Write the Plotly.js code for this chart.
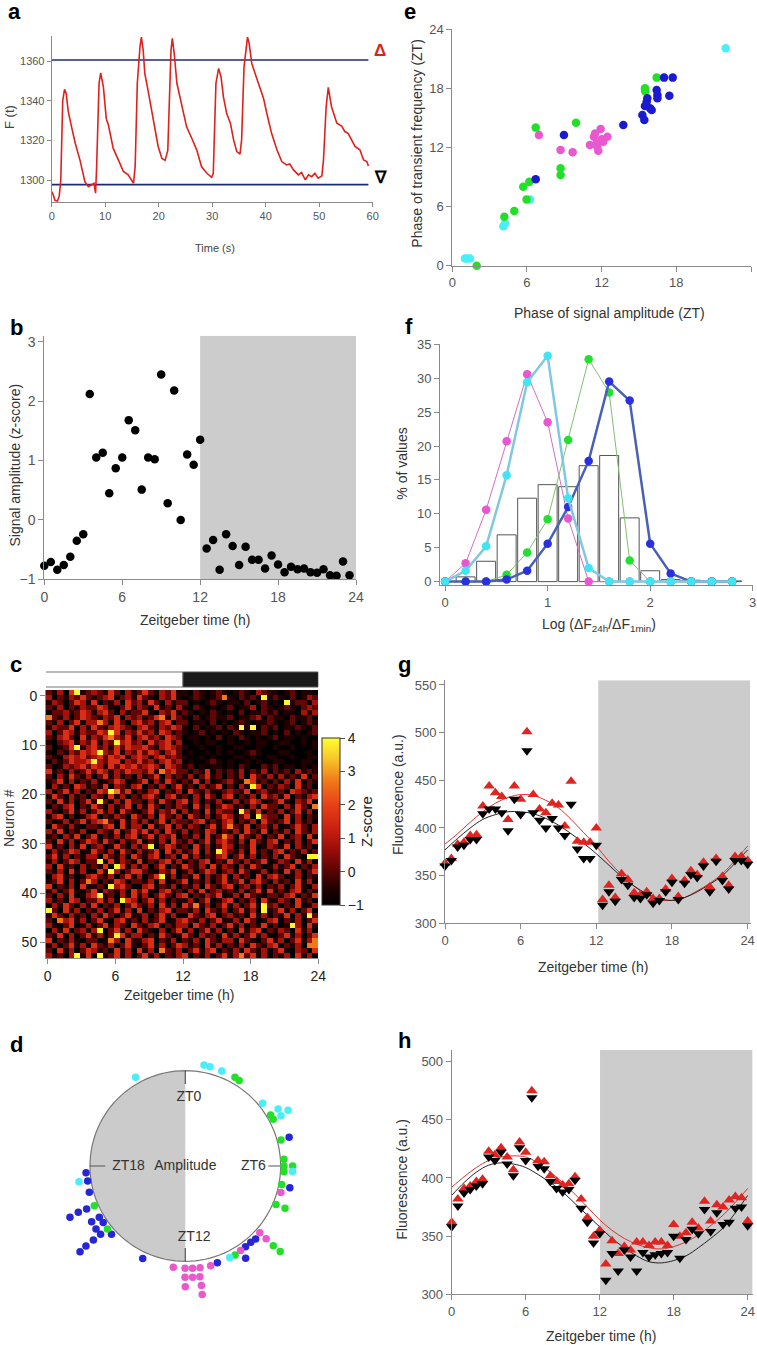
<!DOCTYPE html>
<html><head><meta charset="utf-8">
<script src="https://cdn.plot.ly/plotly-3.0.1.min.js"></script>
<style>body{margin:0;background:#fff}#chart{width:757px;height:1345px}</style>
</head><body><div id="chart"></div><script>
// ---------- Panel a: single-neuron trace ----------
const timeA = [0,0.3,0.6,1.06,1.4,1.7,2.06,2.4,2.7,3.1,3.7,4.4,5.3,6.2,6.85,7.5,7.9,8.2,8.4,8.85,9.16,9.66,10.2,10.6,11.5,12.5,13.4,14.3,15.3,15.6,16.0,16.5,16.76,17.1,17.4,18.1,19.0,19.9,20.6,21.2,21.7,22.0,22.3,22.55,22.9,23.4,24.3,25.2,26.2,27.1,28.0,29.0,29.9,30.2,30.7,31.2,31.65,32.1,32.7,33.4,34.0,34.6,35.2,35.5,35.95,36.6,36.9,37.4,38.0,38.9,39.6,40.2,41.1,42.1,43.0,43.9,44.5,45.2,46.1,46.7,47.4,48.0,48.6,49.2,49.8,50.5,50.8,51.3,51.7,52.3,53.3,54.2,54.8,55.4,56.1,56.7,57.6,58.3,58.9,59.2];
const fluorA = [1294.3,1292.6,1290,1289.3,1292,1300,1340,1345.8,1343.8,1334.5,1327,1318.6,1310,1299.3,1296.8,1297.7,1298.5,1293.5,1306.9,1348.8,1354,1347,1331,1327.8,1316,1310,1304.4,1302.7,1298.5,1306.9,1348.8,1367.2,1372,1365.5,1353.8,1343.8,1330.3,1317,1311,1310,1315,1340.4,1365.5,1371.4,1363.9,1348.8,1337,1327,1321,1315.3,1306.9,1303.5,1301.5,1303.5,1348.8,1356.3,1352,1342,1333.7,1328.7,1320.3,1314.4,1313.2,1320.3,1357.2,1372,1369,1358.8,1353.8,1347,1341.2,1333.7,1323.6,1315.3,1309.4,1307.7,1308.2,1305.2,1302.7,1303.9,1300.2,1302.7,1301.8,1303.5,1301,1302.2,1310.2,1337,1346.8,1337,1328.7,1327.3,1324.5,1323.6,1320.3,1317,1315.3,1310.2,1309.4,1307.2];
const thrSpan = [0, 59.2];
const thrHigh = 1360.5, thrLow = 1297.8;

// ---------- Panel b: signal amplitude ----------
const bTime = [0,0.5,1,1.5,2,2.5,3,3.5,4,4.5,5,5.5,6,6.5,7,7.5,8,8.5,9,9.5,10,10.5,11,11.5,12,12.5,13,13.5,14,14.5,15,15.5,16,16.5,17,17.5,18,18.5,19,19.5,20,20.5,21,21.5,22,22.5,23,23.5];
const bAmp = [-0.77,-0.71,-0.84,-0.76,-0.62,-0.35,-0.24,2.12,1.05,1.13,0.45,0.87,1.05,1.68,1.51,0.51,1.05,1.02,2.45,0.28,2.18,0.0,1.1,0.93,1.35,-0.48,-0.34,-0.84,-0.24,-0.44,-0.76,-0.45,-0.67,-0.67,-0.82,-0.6,-0.75,-0.88,-0.79,-0.83,-0.82,-0.88,-0.89,-0.83,-0.93,-0.94,-0.7,-0.93];

// ---------- Panel c: heatmap (estimated z-score levels, 54 neurons x 48 half-hour bins) ----------
const zLevels = [-1, -0.5, 0.1, 0.8, 1.6, 2.7, 3.9];
const hmRows = [
"21304612 32142031 24213241 10210121 01210321 10120110",
"30213242 12340231 42103241 01210125 10212061 21020132",
"13202431 40213042 31420312 20101210 11020120 10612203",
"21302132 24310241 32041203 10210101 20113021 01210232",
"02231243 13420312 24103241 21010210 10201121 20110313",
"52130243 21324032 31245142 10201211 20112302 11021120",
"21302413 35314203 42313402 20110201 01210112 10120121",
"13224031 42134320 34213243 10201120 21616021 20112102",
"30243132 24364132 42314312 10120101 02101120 10201012",
"21342041 32453241 34231432 01101020 10210101 20110100",
"10234132 41326342 31423413 00101100 10010110 01100101",
"20124613 42314243 34213432 10010010 01100100 10010001",
"10213243 46324132 42431342 01001010 10012100 01100010",
"21034342 34243413 43134232 10010100 01101001 10010011",
"02124334 63244132 42313423 01001210 10010100 11000110",
"20132342 43142434 23431432 12010110 10210021 20110101",
"41203124 24313243 32415342 20214021 21302130 21203121",
"20314213 02413120 31240312 13024120 21304213 03121402",
"12403021 30124301 24031420 21403012 31054120 20314021",
"03120431 21403213 40213024 12031240 20316402 13204120",
"30241302 14365240 21340213 04213102 32140231 12043212",
"14203120 32041302 13420341 20314203 40213042 31402134",
"20413024 16203142 20314203 41302130 13024301 24103240",
"02134021 42031240 31420213 20413024 31203142 20314205",
"31024130 24130421 02413240 31204132 20631402 13024130",
"13402013 40213204 21304213 04213024 31240632 20413021",
"20130241 34520413 13024032 21340213 40213042 12403120",
"04213102 21340413 30412403 13202413 52140231 30124203",
"31402130 03214024 24130421 30214302 13042140 21304213",
"12031402 40213134 02413240 21304125 30421302 14023041",
"20413024 31420312 40213042 13024134 21304213 40213024",
"41203140 23014203 13602431 20413024 30214013 21403120",
"03124301 42130420 31240413 12403164 21304120 34021302",
"24130213 30421304 21340230 41302134 02413021 30421066",
"13024302 26041320 40213413 02134021 42031240 13204130",
"30412031 21406413 13024021 42130413 20314201 31240213",
"21304130 04163024 42103240 13024302 31420130 20413024",
"03412013 42130241 30246130 21403124 03120413 42013021",
"12403025 30214302 21304012 40213024 12403420 31204130",
"40213041 12063420 03412130 21304213 40231302 13024103",
"13024102 40321304 24103412 03140231 21302414 02134021",
"20314013 46120314 13024203 40213240 13042102 21340214",
"31204302 24130643 02413021 13024013 40213041 13204120",
"03142031 40213024 21304130 42513024 13024162 30214013",
"62041302 13024130 40213402 21304213 02413061 24130240",
"14203120 31420241 13024130 04213402 31204130 21403162",
"20534130 24103412 03124013 42130241 13042013 40213024",
"31024013 02413204 21340213 30421302 41302140 20163041",
"03140231 36024130 42103024 13024130 20413402 13204130",
"21403024 13026413 30214201 42031204 13024130 02413024",
"40213102 20153041 13402130 21304213 30421024 13024135",
"13024130 42130241 02413024 31204130 21304213 40213055",
"20413024 31204130 41305213 02413402 13042130 24103204",
"31203614 06124130 24130213 40213024 13524130 21304130"
];

// ---------- Panel d: phase (ZT) and radial position of each neuron ----------
const dCyanZT = [22.05,0.70,0.93,1.40,3.40,3.90,4.15,4.10,6.20,10.27,17.44];
const dCyanR  = [1.066,1.077,1.074,1.067,1.044,1.142,1.134,1.227,1.127,1.066,1.127];
const dGreenZT = [1.95,2.15,3.94,4.13,4.99,5.74,6.00,6.22,6.00,6.72,7.53,7.53,8.81,8.80,10.05,16.43,15.40];
const dGreenR  = [1.066,1.059,1.043,1.045,1.040,1.037,1.035,1.037,1.126,1.029,1.033,1.136,1.245,1.339,1.069,1.041,1.052];
const dMagZT = [7.03,8.79,8.80,9.79,11.05,12.45,12.01,11.73,11.45,12.01,11.75,11.50,12.0,11.49,11.5];
const dMagR  = [1.04,1.05,1.141,1.06,1.079,1.07,1.073,1.076,1.078,1.168,1.170,1.171,1.266,1.266,1.36];
const dBlueZT = [4.97,6.78,9.07,9.29,9.55,9.79,10.78,13.65,15.39,15.41,15.41,15.41,15.15,15.65,15.95,15.95,15.70,16.40,16.44,16.43,16.98,17.42,17.74];
const dBlueR  = [1.13,1.12,1.063,1.054,1.056,1.157,1.07,1.067,1.424,1.338,1.238,1.141,1.054,1.147,1.143,1.05,1.045,1.324,1.223,1.129,1.044,1.036,1.044];
const dLabels = ['ZT0','ZT6','ZT12','ZT18','Amplitude'];

// ---------- Panel e: phase vs phase ----------
const eCyanX = [1.02,1.42,1.2,4.1,4.23,6.24,21.97];
const eCyanY = [0.74,0.74,0.74,4.0,4.3,6.7,22.04];
const eGreenX = [1.96,4.18,4.98,5.7,6.19,5.97,6.7,8.7,8.7,9.94,15.48,16.42,15.5];
const eGreenY = [0.0,4.97,5.54,8.0,8.5,6.72,14.0,9.87,9.2,14.5,17.98,19.07,17.7];
const eMagX = [6.96,8.7,9.67,11.06,11.38,11.65,11.73,11.92,12.13,12.46,11.47,12.0,11.6];
const eMagY = [13.25,11.73,11.5,12.24,13.08,12.07,11.66,13.86,12.58,13.08,13.4,12.81,12.4];
const eBlueX = [6.7,8.97,13.74,15.27,15.43,15.48,15.67,15.89,16.02,16.42,16.48,16.48,17.01,17.71,17.44,15.62];
const eBlueY = [8.76,13.25,14.27,15.28,14.77,16.19,16.97,15.96,15.79,17.82,17.31,16.97,19.07,19.07,17.24,16.63];

// ---------- Panel f: distributions ----------
const fX = [0,0.2,0.4,0.6,0.8,1.0,1.2,1.4,1.6,1.8,2.0,2.2,2.4,2.6,2.8];
const fMag = [0,2.7,10.6,20.7,30.6,23.5,9.3,0,0,0,0,0,0,0,0];
const fCyan = [0,1.6,5.2,15.7,29.4,33.3,12.3,2.0,0,0,0,0,0,0,0];
const fGreen = [0,0,0,1.0,4.3,9.2,20.9,32.8,27.9,3.1,0,0,0,0,0];
const fBlue = [0,0,0,0.3,1.6,5.6,11.0,17.8,29.5,26.7,5.6,1.2,0,0,0];
const fBarX = [0.2,0.4,0.6,0.8,1.0,1.2,1.4,1.6,1.8,2.0,2.2,2.4,2.6,2.8];
const fBarY = [0.7,3.0,6.9,12.3,14.3,14.0,17.1,18.6,9.4,1.6,0.3,0.2,0.1,0.1];

// ---------- Panels g, h: population fluorescence ----------
const ztHalf = [0,0.5,1,1.5,2,2.5,3,3.5,4,4.5,5,5.5,6,6.5,7,7.5,8,8.5,9,9.5,10,10.5,11,11.5,12,12.5,13,13.5,14,14.5,15,15.5,16,16.5,17,17.5,18,18.5,19,19.5,20,20.5,21,21.5,22,22.5,23,23.5,24];
const ztHour = [0,1,2,3,4,5,6,7,8,9,10,11,12,13,14,15,16,17,18,19,20,21,22,23,24];
const gRed = [363,368,383,385,392,393,423,444,437,433,409,444,430,501,435,420,416,426,424,402,449,386,385,385,400,325,340,327,352,346,332,330,333,326,326,336,347,328,345,355,351,364,338,368,349,340,370,370,366];
const gBlack = [360,366,380,382,388,388,415,420,420,416,397,430,414,481,416,408,400,410,400,392,425,378,368,368,382,319,333,323,346,340,327,326,330,321,324,333,343,325,342,351,348,360,333,365,345,336,366,366,362];
const gRedFit = [383,394,406,417,426,432,435,434,429,421,409,395,381,365,351,339,330,325,324,327,334,342,352,366,381];
const gBlackFit = [377,389,400,409,414,417,417,415,410,403,394,384,373,361,349,339,331,326,324,327,333,341,350,363,377];
const hRed = [362,382,391,393,397,399,423,420,426,418,407,431,422,475,415,414,402,397,394,395,401,382,366,350,355,326,346,335,341,338,345,345,342,345,345,342,360,350,353,362,357,380,363,377,375,381,384,383,363];
const hBlack = [358,376,387,390,393,395,418,415,422,412,402,426,415,469,410,408,397,391,388,390,398,374,362,344,352,312,335,320,338,332,320,336,332,334,335,336,350,331,347,356,352,373,354,370,360,362,374,375,359];
const hRedFit = [392,401,409,415,418,419,418,413,405,396,386,375,364,355,348,343,340,339,341,345,351,359,368,379,391];
const hBlackFit = [385,396,405,411,413,412,409,403,396,388,378,368,358,348,340,333,328,327,329,333,340,348,357,370,385];

// ======================================================================
const W = 757, H = 1345;
const fx = p => p / W, fy = p => 1 - p / H;
const FONT = 'Liberation Sans, Arial, sans-serif';
const NARROW = 'Liberation Sans Narrow, Liberation Sans, Arial, sans-serif';
const CYAN = '#48eef8', GREEN = '#22e028', MAG = '#ea58d0', BLUE = '#2626d8';

function ax(extra) {
  return Object.assign({
    showline: true, linecolor: '#8a8a8a', linewidth: 1, ticks: 'outside', ticklen: 5,
    tickcolor: '#8a8a8a', showgrid: false, zeroline: false, fixedrange: true,
    tickfont: {family: NARROW, size: 13, color: '#555'}
  }, extra);
}

const hmZ = hmRows.map(r => r.replace(/ /g, '').split('').map(c => zLevels[+c]));
const deg = a => a.map(v => v * 15);
const circT = []; for (let a = 0; a <= 360; a += 3) circT.push(a);
const circR = circT.map(() => 1);

const traces = [
  // a
  {type:'scatter', mode:'lines', x:thrSpan, y:[thrHigh,thrHigh], xaxis:'x', yaxis:'y', line:{color:'#1c2a7a', width:1.6}, hoverinfo:'skip'},
  {type:'scatter', mode:'lines', x:thrSpan, y:[thrLow,thrLow], xaxis:'x', yaxis:'y', line:{color:'#1c2a7a', width:1.6}, hoverinfo:'skip'},
  {type:'scatter', mode:'lines', x:timeA, y:fluorA, xaxis:'x', yaxis:'y', line:{color:'#e0201c', width:1.6}},
  // b
  {type:'scatter', mode:'markers', x:bTime, y:bAmp, xaxis:'x2', yaxis:'y2', marker:{color:'#000', size:8.5}, cliponaxis:false},
  // c
  {type:'heatmap', z:hmZ, x0:0.1016, dx:0.5031, y0:-0.656, dy:1.0074, xaxis:'x3', yaxis:'y3', zmin:-1, zmax:4,
   colorscale:[[0,'#000000'],[0.1,'#220000'],[0.2,'#580404'],[0.32,'#940c08'],[0.46,'#cc2010'],[0.6,'#e84018'],[0.74,'#f07818'],[0.88,'#f8c828'],[1,'#ffff30']],
   colorbar:{x:fx(322), xanchor:'left', y:fy(821.5), yanchor:'middle', len:167/H, lenmode:'fraction', thickness:18,
     outlinewidth:1, outlinecolor:'#333', tickvals:[-1,0,1,2,3,4], ticks:'outside', ticklen:5, tickcolor:'#555',
     tickfont:{family:FONT, size:14, color:'#222'}, xpad:0, ypad:0,
     title:{text:'Z-score', side:'right', font:{family:FONT, size:15, color:'#222'}}}},
  // d
  {type:'barpolar', subplot:'polar', r:[1], theta:[270], width:[180], marker:{color:'#cbcbcb', line:{width:0}}, hoverinfo:'skip'},
  {type:'scatterpolar', subplot:'polar', mode:'lines', r:circR, theta:circT, line:{color:'#777', width:1.2}, hoverinfo:'skip'},
  {type:'scatterpolar', subplot:'polar', mode:'lines', r:[1,0.86,null,1,0.87,null,1,0.86,null,1,0.84], theta:[0,0,null,90,90,null,180,180,null,270,270], line:{color:'#555', width:1.2}, connectgaps:false, hoverinfo:'skip'},
  {type:'scatterpolar', subplot:'polar', mode:'text', r:[0.72,0.715,0.76,0.595,0], theta:[3,90,173,270,0], text:dLabels, textfont:{family:FONT, size:14, color:'#333'}, hoverinfo:'skip'},
  {type:'scatterpolar', subplot:'polar', mode:'markers', r:dBlueR, theta:deg(dBlueZT), marker:{color:BLUE, size:7.5}},
  {type:'scatterpolar', subplot:'polar', mode:'markers', r:dMagR, theta:deg(dMagZT), marker:{color:MAG, size:7.5}},
  {type:'scatterpolar', subplot:'polar', mode:'markers', r:dGreenR, theta:deg(dGreenZT), marker:{color:GREEN, size:7.5}},
  {type:'scatterpolar', subplot:'polar', mode:'markers', r:dCyanR, theta:deg(dCyanZT), marker:{color:CYAN, size:7.5}},
  // e
  {type:'scatter', mode:'markers', x:eCyanX, y:eCyanY, xaxis:'x4', yaxis:'y4', marker:{color:CYAN, size:8.5}, cliponaxis:false},
  {type:'scatter', mode:'markers', x:eMagX, y:eMagY, xaxis:'x4', yaxis:'y4', marker:{color:MAG, size:8.5}, cliponaxis:false},
  {type:'scatter', mode:'markers', x:eGreenX, y:eGreenY, xaxis:'x4', yaxis:'y4', marker:{color:GREEN, size:8.5}, cliponaxis:false},
  {type:'scatter', mode:'markers', x:eBlueX, y:eBlueY, xaxis:'x4', yaxis:'y4', marker:{color:'#1a1ad0', size:8.5}, cliponaxis:false},
  // f
  {type:'bar', x:fBarX, y:fBarY, width:0.185, xaxis:'x5', yaxis:'y5', marker:{color:'#fff', line:{color:'#555', width:1}}},
  {type:'scatter', mode:'lines+markers', x:fX, y:fMag, xaxis:'x5', yaxis:'y5', line:{color:'#d070c4', width:1}, marker:{color:'#e856d0', size:8.5}, cliponaxis:false},
  {type:'scatter', mode:'lines+markers', x:fX, y:fGreen, xaxis:'x5', yaxis:'y5', line:{color:'#80c070', width:1}, marker:{color:'#22e030', size:8.5}, cliponaxis:false},
  {type:'scatter', mode:'lines+markers', x:fX, y:fBlue, xaxis:'x5', yaxis:'y5', line:{color:'#4a60b4', width:2.5}, marker:{color:'#2a30e0', size:8.5}, cliponaxis:false},
  {type:'scatter', mode:'lines+markers', x:fX, y:fCyan, xaxis:'x5', yaxis:'y5', line:{color:'#80c8e0', width:2.5}, marker:{color:'#40e4f4', size:8.5}, cliponaxis:false},
  // g
  {type:'scatter', mode:'lines', x:ztHour, y:gRedFit, xaxis:'x6', yaxis:'y6', line:{color:'#e03030', width:1, shape:'spline'}},
  {type:'scatter', mode:'lines', x:ztHour, y:gBlackFit, xaxis:'x6', yaxis:'y6', line:{color:'#222', width:1, shape:'spline'}},
  {type:'scatter', mode:'markers', x:ztHalf, y:gRed, xaxis:'x6', yaxis:'y6', marker:{color:'#e02420', size:10, symbol:'triangle-up'}, cliponaxis:false},
  {type:'scatter', mode:'markers', x:ztHalf, y:gBlack, xaxis:'x6', yaxis:'y6', marker:{color:'#000', size:10, symbol:'triangle-down'}, cliponaxis:false},
  // h
  {type:'scatter', mode:'lines', x:ztHour, y:hRedFit, xaxis:'x7', yaxis:'y7', line:{color:'#e03030', width:1, shape:'spline'}},
  {type:'scatter', mode:'lines', x:ztHour, y:hBlackFit, xaxis:'x7', yaxis:'y7', line:{color:'#222', width:1, shape:'spline'}},
  {type:'scatter', mode:'markers', x:ztHalf, y:hRed, xaxis:'x7', yaxis:'y7', marker:{color:'#e02420', size:10, symbol:'triangle-up'}, cliponaxis:false},
  {type:'scatter', mode:'markers', x:ztHalf, y:hBlack, xaxis:'x7', yaxis:'y7', marker:{color:'#000', size:10, symbol:'triangle-down'}, cliponaxis:false}
];

function ann(text, px, py, o) {
  return Object.assign({text, x:fx(px), y:fy(py), xref:'paper', yref:'paper', showarrow:false,
    xanchor:'center', yanchor:'middle', font:{family:FONT, size:14, color:'#333'}}, o || {});
}
const bold = s => ({family:FONT, size:s, color:'#000', weight:'bold'});

const annotations = [
  ann('<b>a</b>', 14, 12, {font:bold(22)}),
  ann('<b>b</b>', 16, 327, {font:bold(22)}),
  ann('<b>c</b>', 15.5, 665, {font:bold(22)}),
  ann('<b>d</b>', 16, 1044, {font:bold(22)}),
  ann('<b>e</b>', 409.5, 12, {font:bold(22)}),
  ann('<b>f</b>', 409, 326, {font:bold(22)}),
  ann('<b>g</b>', 404, 664, {font:bold(22)}),
  ann('<b>h</b>', 404, 1040, {font:bold(22)}),
  ann('<b>Δ</b>', 380, 50, {font:{family:FONT, size:17, color:'#e02020'}}),
  ann('<b>∇</b>', 381, 178, {font:{family:FONT, size:17, color:'#000'}}),
  ann('F (t)', 10, 117, {textangle:-90, font:{family:NARROW, size:13, color:'#444'}}),
  ann('Time (s)', 215, 248, {font:{family:NARROW, size:11, color:'#444'}}),
  ann('Signal amplitude (z-score)', 14.5, 465, {textangle:-90}),
  ann('Zeitgeber time (h)', 195, 620),
  ann('Neuron #', 9, 818, {textangle:-90}),
  ann('Zeitgeber time (h)', 179, 995),
  ann('Phase of transient frequency (ZT)', 416.7, 143, {textangle:-90}),
  ann('Phase of signal amplitude (ZT)', 609, 313),
  ann('% of values', 401.7, 464, {textangle:-90}),
  ann('Log (ΔF<sub>24h</sub>/ΔF<sub>1min</sub>)', 599, 625),
  ann('Fluorescence (a.u.)', 398, 794, {textangle:-90}),
  ann('Zeitgeber time (h)', 593, 967),
  ann('Fluorescence (a.u.)', 401.7, 1179, {textangle:-90}),
  ann('Zeitgeber time (h)', 601, 1336)
];

const shapes = [
  {type:'rect', xref:'x2', yref:'y2', x0:12, x1:24, y0:-1, y1:3.1, fillcolor:'#cccccc', line:{width:0}, layer:'below'},
  {type:'rect', xref:'x6', yref:'y6', x0:12.16, x1:24.19, y0:300, y1:555, fillcolor:'#cccccc', line:{width:0}, layer:'below'},
  {type:'rect', xref:'x7', yref:'y7', x0:12.03, x1:24.4, y0:300, y1:510, fillcolor:'#cccccc', line:{width:0}, layer:'below'},
  {type:'rect', xref:'x3', yref:'paper', x0:-0.2, x1:12, y0:fy(687), y1:fy(672), fillcolor:'#fff', line:{color:'#777', width:1}},
  {type:'rect', xref:'x3', yref:'paper', x0:12, x1:24, y0:fy(687), y1:fy(672), fillcolor:'#1a1a1a', line:{color:'#555', width:1}}
];

const ztTicks = [0,6,12,18,24];
const layout = {
  width:W, height:H, margin:{l:0,r:0,t:0,b:0}, showlegend:false,
  paper_bgcolor:'#fff', plot_bgcolor:'rgba(0,0,0,0)', font:{family:FONT, color:'#333'},
  xaxis: ax({domain:[fx(51.7),fx(372.7)], range:[0,60], tickvals:[0,10,20,30,40,50,60], anchor:'y', ticklen:4, tickfont:{family:NARROW,size:11,color:'#555'}}),
  yaxis: ax({domain:[fy(201.7),fy(36)], range:[1289.2,1372.6], tickvals:[1300,1320,1340,1360], anchor:'x', ticklen:4, tickfont:{family:NARROW,size:11,color:'#555'}}),
  xaxis2: ax({domain:[fx(44.3),fx(356)], range:[0,24], tickvals:ztTicks, anchor:'y2', tickfont:{family:NARROW,size:14,color:'#555'}}),
  yaxis2: ax({domain:[fy(579.3),fy(335.8)], range:[-1,3.1], tickvals:[-1,0,1,2,3], anchor:'x2', tickfont:{family:NARROW,size:14,color:'#555'}}),
  xaxis3: ax({domain:[fx(46),fx(318.3)], range:[-0.15,24], tickvals:ztTicks, anchor:'y3', tickfont:{family:FONT,size:14,color:'#222'}}),
  yaxis3: ax({domain:[fy(958.3),fy(690)], range:[53.24,-1.16], tickvals:[0,10,20,30,40,50], anchor:'x3', tickfont:{family:FONT,size:14,color:'#222'}}),
  xaxis4: ax({domain:[fx(452.3),fx(751)], range:[0,24], tickvals:ztTicks, anchor:'y4'}),
  yaxis4: ax({domain:[fy(265.7),fy(29)], range:[0,24], tickvals:ztTicks, anchor:'x4'}),
  xaxis5: ax({domain:[fx(440),fx(752.7)], range:[-0.05,3], tickvals:[0,1,2,3], anchor:'y5', tickfont:{family:FONT,size:13,color:'#555'}}),
  yaxis5: ax({domain:[fy(585),fy(344.3)], range:[-0.5,35], tickvals:[0,5,10,15,20,25,30,35], anchor:'x5', tickfont:{family:FONT,size:13,color:'#555'}}),
  xaxis6: ax({domain:[fx(445),fx(751.4)], range:[0,24.3], tickvals:ztTicks, anchor:'y6'}),
  yaxis6: ax({domain:[fy(923.3),fy(680.2)], range:[300,555], tickvals:[300,350,400,450,500,550], anchor:'x6'}),
  xaxis7: ax({domain:[fx(451.7),fx(752.6)], range:[0,24.4], tickvals:ztTicks, anchor:'y7'}),
  yaxis7: ax({domain:[fy(1294.3),fy(1050)], range:[300,510], tickvals:[300,350,400,450,500], anchor:'x7'}),
  polar: {
    domain:{x:[fx(42.3),fx(328.3)], y:[fy(1309),fy(1023)]},
    bgcolor:'rgba(0,0,0,0)', gridshape:'circular', bargap:0,
    radialaxis:{range:[0,1.5], showline:false, showgrid:false, showticklabels:false, ticks:''},
    angularaxis:{rotation:90, direction:'clockwise', thetaunit:'degrees', showline:false, showgrid:false, showticklabels:false, ticks:''}
  },
  shapes, annotations
};

Plotly.newPlot('chart', traces, layout, {staticPlot:true, displayModeBar:false});
</script></body></html>
